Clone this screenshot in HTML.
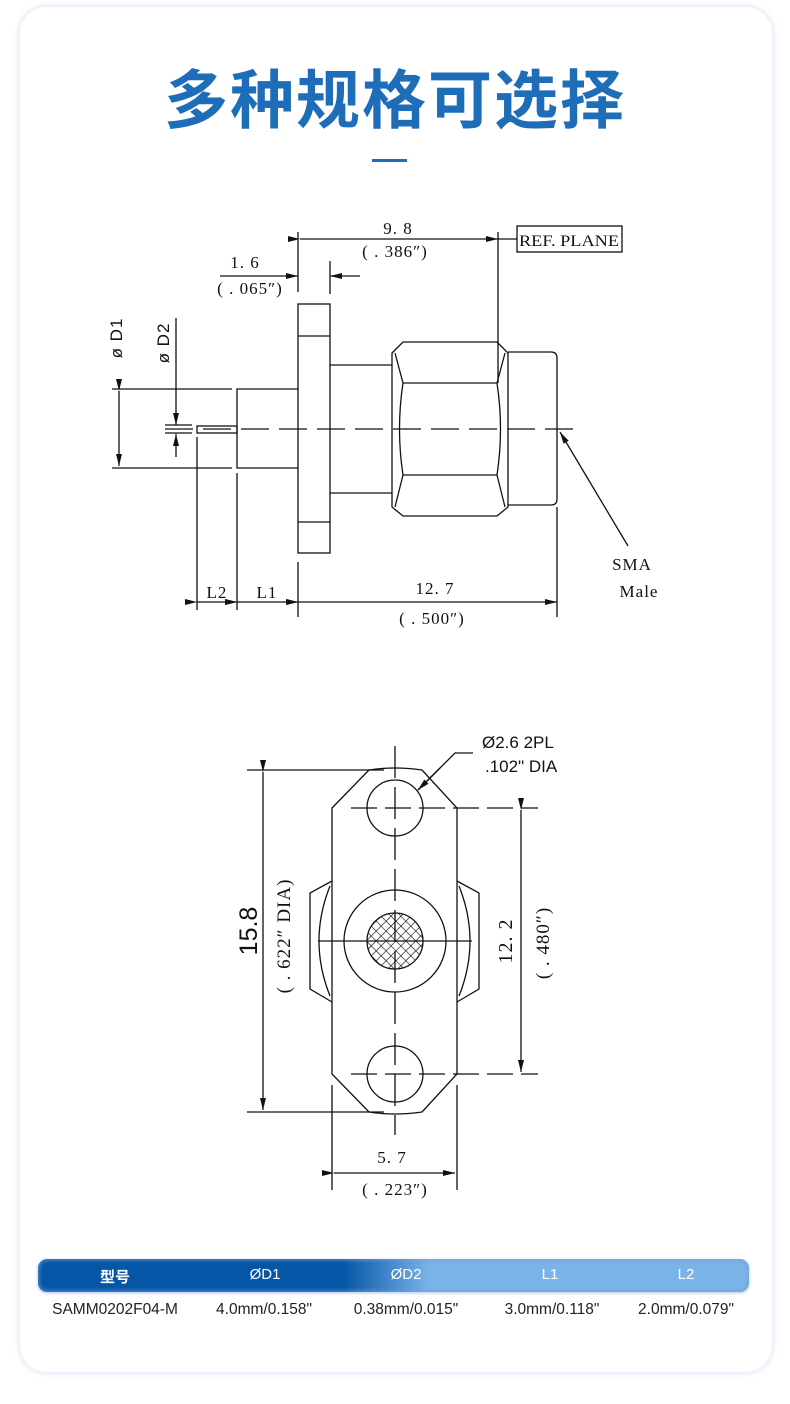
<!DOCTYPE html>
<html><head><meta charset="utf-8">
<style>
html,body{margin:0;padding:0;background:#fff;}
body{width:790px;height:1404px;position:relative;overflow:hidden;font-family:"Liberation Sans","Noto Sans CJK SC",sans-serif;}
.card{position:absolute;left:20px;top:7px;width:752px;height:1365px;border-radius:26px;background:#fff;box-shadow:0 0 5px 2px rgba(180,205,235,0.4);}
.title{position:absolute;left:0;width:790px;top:56px;text-align:center;font-size:64px;font-weight:bold;color:#1d6db8;letter-spacing:2px;font-family:"Noto Sans CJK SC","WenQuanYi Zen Hei",sans-serif;line-height:80px;}
.bar{position:absolute;left:372px;top:159px;width:35px;height:3px;background:#1d6db8;}
.thead{position:absolute;left:38px;top:1259px;width:711px;height:33px;border-radius:9px;background:linear-gradient(90deg,#0556a6 0%,#0556a6 43%,#7ab3e8 55%,#7ab3e8 100%);box-shadow:0 0 3px 2px rgba(120,160,215,0.55) inset,0 1px 3px rgba(120,160,215,.6);}
.th{position:absolute;top:1266px;color:#fff;font-size:15px;transform:translateX(-50%);}
.td{position:absolute;top:1301px;color:#222;font-size:15.5px;transform:translateX(-50%);white-space:nowrap;}
svg{position:absolute;left:0;top:0;}
</style></head><body>
<div class="card"></div>
<div class="title">多种规格可选择</div>
<div class="bar"></div>

<svg width="790" height="1404" viewBox="0 0 790 1404">
<defs>
<marker id="a" markerWidth="12" markerHeight="6" refX="12" refY="3" orient="auto" markerUnits="userSpaceOnUse"><path d="M0,0 L12,3 L0,6 z" fill="#111"/></marker>
<pattern id="hatch" width="7" height="7" patternUnits="userSpaceOnUse" patternTransform="rotate(45)"><path d="M0,0 V7 M0,0 H7" stroke="#111" stroke-width="1.3"/></pattern>
</defs>
<g stroke="#111" stroke-width="1.3" fill="none">
<line x1="298" y1="232" x2="298" y2="292"/>
<line x1="498" y1="232" x2="498" y2="383"/>
<line x1="300" y1="239" x2="498" y2="239" marker-start="url(#a)" marker-end="url(#a)"/>
<line x1="498" y1="239" x2="517" y2="239"/>
<rect x="517" y="226" width="105" height="26"/>
<line x1="220" y1="276" x2="298" y2="276" marker-end="url(#a)"/>
<line x1="360" y1="276" x2="330" y2="276" marker-end="url(#a)"/>
<line x1="330" y1="261" x2="330" y2="294"/>
<rect x="298" y="304" width="32" height="249"/>
<line x1="298" y1="336" x2="330" y2="336"/>
<line x1="298" y1="522" x2="330" y2="522"/>
<line x1="112" y1="389" x2="232" y2="389"/>
<line x1="112" y1="468" x2="232" y2="468"/>
<path d="M298,389 H237 V468 H298"/>
<rect x="197" y="426" width="40" height="7"/>
<line x1="330" y1="365" x2="392" y2="365"/>
<line x1="330" y1="493" x2="392" y2="493"/>
<path d="M392,353 L403,342 H497 L508,353 V507 L497,516 H403 L392,507 Z"/>
<path d="M395,353 L403,383 Q396,429 403,475 L395,507"/>
<path d="M505,353 L497,383 Q504,429 497,475 L505,507"/>
<line x1="403" y1="383" x2="497" y2="383"/>
<line x1="403" y1="475" x2="497" y2="475"/>
<path d="M508,352 H551 Q557,352 557,358 V499 Q557,505 551,505 H508"/>
<line x1="165" y1="429" x2="578" y2="429" stroke-dasharray="28,10"/>
<line x1="119" y1="391" x2="119" y2="466" marker-start="url(#a)" marker-end="url(#a)"/>
<line x1="176" y1="318" x2="176" y2="425" marker-end="url(#a)"/>
<line x1="176" y1="457" x2="176" y2="434" marker-end="url(#a)"/>
<line x1="165" y1="425" x2="192" y2="425"/>
<line x1="165" y1="433" x2="192" y2="433"/>
<line x1="197" y1="437" x2="197" y2="610"/>
<line x1="237" y1="473" x2="237" y2="610"/>
<line x1="298" y1="562" x2="298" y2="617"/>
<line x1="557" y1="507" x2="557" y2="617"/>
<line x1="197" y1="602" x2="237" y2="602" marker-start="url(#a)" marker-end="url(#a)"/>
<line x1="237" y1="602" x2="298" y2="602" marker-start="url(#a)" marker-end="url(#a)"/>
<line x1="298" y1="602" x2="557" y2="602" marker-start="url(#a)" marker-end="url(#a)"/>
<line x1="628" y1="546" x2="560" y2="432" marker-end="url(#a)"/>

<path d="M332,808 L369,770 Q395,766 422,770 L457,808 V1074 L422,1112 Q395,1116 369,1112 L332,1074 Z"/>
<circle cx="395" cy="808" r="28"/>
<circle cx="395" cy="1074" r="28"/>
<circle cx="395" cy="941" r="51"/>
<circle cx="395" cy="941" r="28" fill="url(#hatch)"/>
<path d="M332,881 L310,893 V989 L332,1002"/>
<path d="M330,886 Q308,941 330,996"/>
<path d="M457,881 L479,893 V989 L457,1002"/>
<path d="M459,886 Q481,941 459,996"/>
<line x1="395" y1="746" x2="395" y2="1135" stroke-dasharray="32,9"/>
<line x1="318" y1="941" x2="472" y2="941"/>
<line x1="351" y1="808" x2="538" y2="808" stroke-dasharray="26,8"/>
<line x1="351" y1="1074" x2="538" y2="1074" stroke-dasharray="26,8"/>
<line x1="247" y1="770" x2="384" y2="770"/>
<line x1="247" y1="1112" x2="384" y2="1112"/>
<line x1="263" y1="772" x2="263" y2="1110" marker-start="url(#a)" marker-end="url(#a)"/>
<line x1="521" y1="810" x2="521" y2="1072" marker-start="url(#a)" marker-end="url(#a)"/>
<line x1="332" y1="1085" x2="332" y2="1190"/>
<line x1="457" y1="1085" x2="457" y2="1190"/>
<line x1="334" y1="1173" x2="455" y2="1173" marker-start="url(#a)" marker-end="url(#a)"/>
<path d="M473,753 H455 L418,790" />
<line x1="440" y1="768" x2="418" y2="790" marker-end="url(#a)"/>
</g>

<g fill="#111" font-family="Liberation Serif, serif" font-size="17" text-anchor="middle" letter-spacing="1">
<text x="398" y="234">9. 8</text>
<text x="395" y="257">( . 386″)</text>
<text x="569" y="246" font-size="16" letter-spacing="0" textLength="100" lengthAdjust="spacingAndGlyphs">REF. PLANE</text>
<text x="245" y="268">1. 6</text>
<text x="250" y="294">( . 065″)</text>
<text x="217" y="598">L2</text>
<text x="267" y="598">L1</text>
<text x="435" y="594">12. 7</text>
<text x="432" y="624">( . 500″)</text>
<text x="632" y="570">SMA</text>
<text x="639" y="597">Male</text>
<text transform="translate(122,338) rotate(-90)" font-family="Liberation Sans, sans-serif">ø D1</text>
<text transform="translate(169,343) rotate(-90)" font-family="Liberation Sans, sans-serif">ø D2</text>
<text x="392" y="1163">5. 7</text>
<text x="395" y="1195">( . 223″)</text>
<text transform="translate(512,941) rotate(-90)" font-size="20">12. 2</text>
<text transform="translate(549,943) rotate(-90)" font-size="19">( . 480″)</text>
<text transform="translate(290,936) rotate(-90)" font-size="19">( . 622″   DIA)</text>
<text transform="translate(257,931) rotate(-90)" font-size="25" letter-spacing="0" font-family="Liberation Sans, sans-serif">15.8</text>
<text x="482" y="748" text-anchor="start" letter-spacing="0" font-family="Liberation Sans, sans-serif">Ø2.6  2PL</text>
<text x="485" y="772" text-anchor="start" letter-spacing="0" font-family="Liberation Sans, sans-serif">.102"  DIA</text>
</g>
</svg>

<div class="thead"></div>
<div class="th" style="left:115px;font-weight:bold">型号</div>
<div class="th" style="left:265px">ØD1</div>
<div class="th" style="left:406px">ØD2</div>
<div class="th" style="left:550px">L1</div>
<div class="th" style="left:686px">L2</div>
<div class="td" style="left:115px">SAMM0202F04-M</div>
<div class="td" style="left:264px">4.0mm/0.158"</div>
<div class="td" style="left:406px">0.38mm/0.015"</div>
<div class="td" style="left:552px">3.0mm/0.118"</div>
<div class="td" style="left:686px">2.0mm/0.079"</div>
</body></html>
